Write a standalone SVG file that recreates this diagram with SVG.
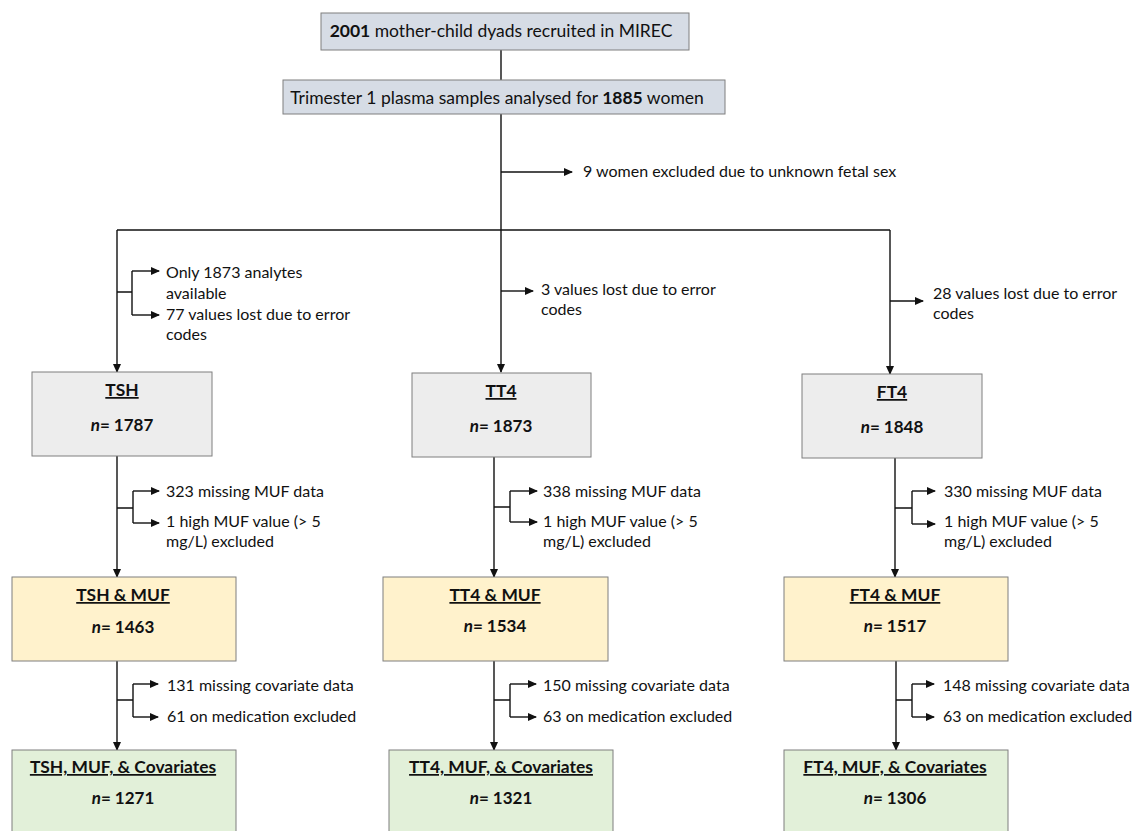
<svg xmlns="http://www.w3.org/2000/svg" width="1133" height="831" viewBox="0 0 1133 831">
<style>
text{font-family:Lato,"Open Sans","Liberation Sans",sans-serif;fill:#111}
.top{font-size:17.5px}
.lab{font-size:16px}
.ttl{font-size:17.4px;font-weight:bold;text-decoration:underline}
.n{font-size:17px;font-weight:bold}
.blue{fill:#D6DCE5;stroke:#7F7F7F;stroke-width:1}
.gray{fill:#EDEDED;stroke:#7F7F7F;stroke-width:1}
.yel{fill:#FFF2CC;stroke:#7F7F7F;stroke-width:1}
.grn{fill:#E2F0D9;stroke:#7F7F7F;stroke-width:1}
.ln{fill:none;stroke:#111;stroke-width:1.4}
.ar{fill:none;stroke:#111;stroke-width:1.4;marker-end:url(#ah)}
</style>
<defs>
<marker id="ah" markerWidth="9" markerHeight="8" refX="8" refY="4" orient="auto" markerUnits="userSpaceOnUse">
<path d="M0,0 L9,4 L0,8 Z" fill="#111"/>
</marker>
</defs>
<rect width="1133" height="831" fill="#fff"/>

<g id="connectors">
<path class="ln" d="M501,50 V80"/>
<path class="ln" d="M501,114 V230"/>
<path class="ar" d="M501,172 H572"/>
<path class="ln" d="M117,230 H890"/>
<path class="ar" d="M117,230 V372"/>
<path class="ar" d="M501,230 V372"/>
<path class="ar" d="M890,230 V374"/>
<path class="ln" d="M117,292 H132 M132,271 V315"/>
<path class="ar" d="M132,271 H159"/>
<path class="ar" d="M132,315 H159"/>
<path class="ar" d="M501,291 H533"/>
<path class="ar" d="M890,301 H923"/>
<path class="ar" d="M117,456 V577"/>
<path class="ln" d="M117,508 H133 M133,491 V523"/>
<path class="ar" d="M133,491 H159"/>
<path class="ar" d="M133,523 H159"/>
<path class="ar" d="M494,457 V577"/>
<path class="ln" d="M494,507 H510 M510,491 V522"/>
<path class="ar" d="M510,491 H537"/>
<path class="ar" d="M510,522 H537"/>
<path class="ar" d="M895,458 V577"/>
<path class="ln" d="M895,508 H912 M912,491 V524"/>
<path class="ar" d="M912,491 H935"/>
<path class="ar" d="M912,524 H935"/>
<path class="ar" d="M117,661 V750"/>
<path class="ln" d="M117,700 H133 M133,684 V717"/>
<path class="ar" d="M133,684 H158"/>
<path class="ar" d="M133,717 H158"/>
<path class="ar" d="M494,661 V750"/>
<path class="ln" d="M494,700 H510 M510,684 V717"/>
<path class="ar" d="M510,684 H536"/>
<path class="ar" d="M510,717 H536"/>
<path class="ar" d="M896,661 V750"/>
<path class="ln" d="M896,700 H912 M912,684 V717"/>
<path class="ar" d="M912,684 H934"/>
<path class="ar" d="M912,717 H934"/>
</g>

<g id="labels">
<text class="lab" x="583" y="177">9 women excluded due to unknown fetal sex</text>
<text class="lab" x="166" y="278">Only 1873 analytes</text>
<text class="lab" x="166" y="299">available</text>
<text class="lab" x="166" y="320">77 values lost due to error</text>
<text class="lab" x="166" y="340">codes</text>
<text class="lab" x="541" y="295">3 values lost due to error</text>
<text class="lab" x="541" y="315">codes</text>
<text class="lab" x="933" y="299">28 values lost due to error</text>
<text class="lab" x="933" y="319">codes</text>
<text class="lab" x="166" y="497">323 missing MUF data</text>
<text class="lab" x="166" y="527">1 high MUF value (&gt; 5</text>
<text class="lab" x="166" y="547">mg/L) excluded</text>
<text class="lab" x="543" y="497">338 missing MUF data</text>
<text class="lab" x="543" y="527">1 high MUF value (&gt; 5</text>
<text class="lab" x="543" y="547">mg/L) excluded</text>
<text class="lab" x="944" y="497">330 missing MUF data</text>
<text class="lab" x="944" y="527">1 high MUF value (&gt; 5</text>
<text class="lab" x="944" y="547">mg/L) excluded</text>
<text class="lab" x="167" y="691">131 missing covariate data</text>
<text class="lab" x="167" y="722">61 on medication excluded</text>
<text class="lab" x="543" y="691">150 missing covariate data</text>
<text class="lab" x="543" y="722">63 on medication excluded</text>
<text class="lab" x="943" y="691">148 missing covariate data</text>
<text class="lab" x="943" y="722">63 on medication excluded</text>
</g>

<g id="recruited">
<rect class="blue" x="321" y="13" width="368" height="37"/>
<text class="top" x="501" y="37" text-anchor="middle"><tspan font-weight="bold">2001</tspan> mother-child dyads recruited in MIREC</text>
</g>
<g id="analysed">
<rect class="blue" x="283" y="80" width="442" height="34"/>
<text class="top" x="497" y="104" text-anchor="middle">Trimester 1 plasma samples analysed for <tspan font-weight="bold">1885</tspan> women</text>
</g>

<g id="tsh">
<rect class="gray" x="32" y="372" width="180" height="84"/>
<text class="ttl" x="122" y="396" text-anchor="middle">TSH</text>
<text class="n" x="122" y="431" text-anchor="middle"><tspan font-style="italic">n</tspan>= 1787</text>
</g>
<g id="tt4">
<rect class="gray" x="412" y="373" width="179" height="84"/>
<text class="ttl" x="501" y="397" text-anchor="middle">TT4</text>
<text class="n" x="501" y="432" text-anchor="middle"><tspan font-style="italic">n</tspan>= 1873</text>
</g>
<g id="ft4">
<rect class="gray" x="802" y="374" width="180" height="84"/>
<text class="ttl" x="892" y="398" text-anchor="middle">FT4</text>
<text class="n" x="892" y="433" text-anchor="middle"><tspan font-style="italic">n</tspan>= 1848</text>
</g>

<g id="tsh-muf">
<rect class="yel" x="12" y="577" width="224" height="84"/>
<text class="ttl" x="123" y="601" text-anchor="middle">TSH &amp; MUF</text>
<text class="n" x="123" y="633" text-anchor="middle"><tspan font-style="italic">n</tspan>= 1463</text>
</g>
<g id="tt4-muf">
<rect class="yel" x="383" y="577" width="225" height="84"/>
<text class="ttl" x="495" y="601" text-anchor="middle">TT4 &amp; MUF</text>
<text class="n" x="495" y="632" text-anchor="middle"><tspan font-style="italic">n</tspan>= 1534</text>
</g>
<g id="ft4-muf">
<rect class="yel" x="784" y="577" width="224" height="84"/>
<text class="ttl" x="895" y="601" text-anchor="middle">FT4 &amp; MUF</text>
<text class="n" x="895" y="632" text-anchor="middle"><tspan font-style="italic">n</tspan>= 1517</text>
</g>

<g id="tsh-cov">
<rect class="grn" x="12" y="750" width="224" height="84"/>
<text class="ttl" x="123" y="773" text-anchor="middle">TSH, MUF, &amp; Covariates</text>
<text class="n" x="123" y="804" text-anchor="middle"><tspan font-style="italic">n</tspan>= 1271</text>
</g>
<g id="tt4-cov">
<rect class="grn" x="389" y="750" width="224" height="84"/>
<text class="ttl" x="501" y="773" text-anchor="middle">TT4, MUF, &amp; Covariates</text>
<text class="n" x="501" y="804" text-anchor="middle"><tspan font-style="italic">n</tspan>= 1321</text>
</g>
<g id="ft4-cov">
<rect class="grn" x="784" y="750" width="224" height="84"/>
<text class="ttl" x="895" y="773" text-anchor="middle">FT4, MUF, &amp; Covariates</text>
<text class="n" x="895" y="804" text-anchor="middle"><tspan font-style="italic">n</tspan>= 1306</text>
</g>
</svg>
